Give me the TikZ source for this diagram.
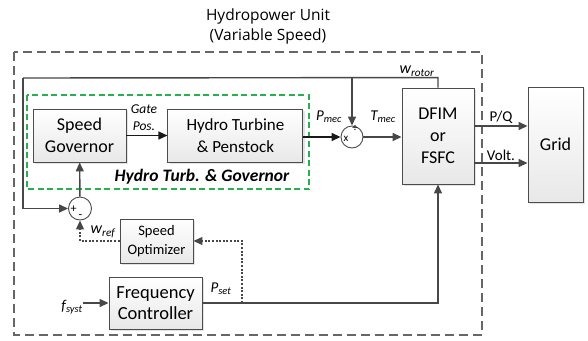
\documentclass[tikz,border=0pt]{standalone}
\usepackage{fontspec}
\setmainfont{Carlito}
\newfontfamily\titlefont{Open Sans}
\usepackage{tikz}
\usetikzlibrary{arrows.meta, positioning, calc, shadows}
\definecolor{govgreen}{RGB}{38,176,80}

\begin{document}
\begin{tikzpicture}[x=1pt, y=-1pt,
  node distance=40pt,
  block/.style={rectangle, draw=black!70, line width=0.9pt,
    top color=white, bottom color=black!9,
    drop shadow={opacity=0.22, shadow xshift=2pt, shadow yshift=-2pt},
    align=center, inner sep=0pt, font=\fontsize{18}{22}\selectfont},
  junction/.style={circle, draw=black!70, line width=0.9pt, fill=white,
    minimum size=22pt, inner sep=0pt},
  arrow/.style={-{Triangle[length=9pt, width=8pt]}, line width=1.4pt, draw=black!72},
  darrow/.style={arrow, line width=1.2pt, dash pattern=on 2pt off 1.6pt},
  line/.style={line width=1.4pt, draw=black!72},
  lab/.style={inner sep=0pt, font=\fontsize{15}{17}\selectfont\itshape}
]
\useasboundingbox (0,0) rectangle (588,340);

% title and frames
\node (title) [inner sep=0pt, align=center, font=\titlefont\fontsize{15.5}{20}\selectfont]
  at (268,26) {Hydropower Unit\\(Variable Speed)};
\draw[line width=1.4pt, draw=black!60, dash pattern=on 9pt off 5pt]
  (14,52) rectangle (482,335);
\draw[line width=1.1pt, draw=govgreen, dash pattern=on 6pt off 3.5pt]
  (27,95) rectangle (309,189);

% blocks
\node (gov)  [block, minimum width=93pt, minimum height=53pt]
  at (79.5,135.5) {Speed\\Governor};
\node (turb) [block, minimum width=135pt, minimum height=53pt,
  font=\fontsize{17}{22}\selectfont, right=41pt of gov] {Hydro Turbine\\\& Penstock};
\node (mult) [junction] at (352,137) {};
\node (dfim) [block, minimum width=72pt, minimum height=96pt]
  at (438,136) {DFIM\\or\\FSFC};
\node (grid) [block, minimum width=55pt, minimum height=115pt]
  at (555.5,144.5) {Grid};
\node (sum)  [junction, minimum size=23pt] at (80,208.5) {};
\node (opt)  [block, minimum width=73pt, minimum height=44pt,
  font=\fontsize{14.5}{19}\selectfont] at (156.5,241) {Speed\\Optimizer};
\node (freq) [block, minimum width=93pt, minimum height=52pt,
  font=\fontsize{18.5}{21}\selectfont] at (155.5,303) {Frequency\\Controller};

% signs in the junctions
\node (mulx) [inner sep=0pt, font=\fontsize{11}{11}\selectfont] at (346,139) {x};
\node (muld) [inner sep=0pt, font=\fontsize{11}{11}\selectfont] at (355,129) {÷};
\node (sump) [inner sep=0pt, font=\fontsize{12}{12}\selectfont] at (73.5,209) {+};
\node (summ) [inner sep=0pt, font=\fontsize{12}{12}\selectfont] at (80.5,216.5) {-};

% labels
\node (gate) [lab, align=center, font=\fontsize{13.5}{17}\selectfont\itshape]
  at (144,117.5) {Gate\\Pos.};
\node (pmec) [lab] at (329,117) {P\textsubscript{mec}};
\node (tmec) [lab] at (383,117) {T\textsubscript{mec}};
\node (wrot) [lab, font=\fontsize{16}{17}\selectfont\itshape] at (417,71) {w\textsubscript{rotor}};
\node (wref) [lab, font=\fontsize{16}{17}\selectfont\itshape] at (103,232) {w\textsubscript{ref}};
\node (pset) [lab] at (221,289) {P\textsubscript{set}};
\node (fsys) [lab] at (72,307) {f\textsubscript{syst}};
\node (htg)  [inner sep=0pt, font=\fontsize{17.5}{20}\selectfont\bfseries\itshape]
  at (202,177) {Hydro Turb. \& Governor};

% forward path
\draw[arrow, draw=black!90] (gov) -- (turb);
\draw[arrow, draw=black!90] (turb.east |- mult) -- (mult);
\draw[arrow] (mult) -- (mult -| dfim.west);
\draw[arrow] ([yshift=10pt]dfim.east) -- ([yshift=10pt]dfim.east -| grid.west)
  node[midway, above=2pt, inner sep=0pt, font=\fontsize{15}{17}\selectfont] {P/Q};
\draw[arrow] ([yshift=-27pt]dfim.east) -- ([yshift=-27pt]dfim.east -| grid.west)
  node[midway, above=2pt, inner sep=0pt, font=\fontsize{15}{17}\selectfont] {Volt.};

% rotor speed feedback
\coordinate (fbR) at ($(dfim.north)+(0,-10)$);
\coordinate (fbL) at (23,78);
\draw[line] (dfim.north) -- (fbR) -- (fbL);
\draw[arrow] (fbL) |- (sum.west);
\draw[arrow] (mult.north |- fbL) -- (mult.north);
\draw[arrow] (sum) -- (gov);

% frequency control
\coordinate (pb) at (242,303);
\draw[arrow] (fsys.east |- freq.west) -- (freq.west);
\draw[arrow] (freq.east) -| (dfim.south);
\draw[darrow] (pb) |- (opt.east);
\draw[darrow] (opt.west) -| (sum.south);

\end{tikzpicture}
\end{document}
